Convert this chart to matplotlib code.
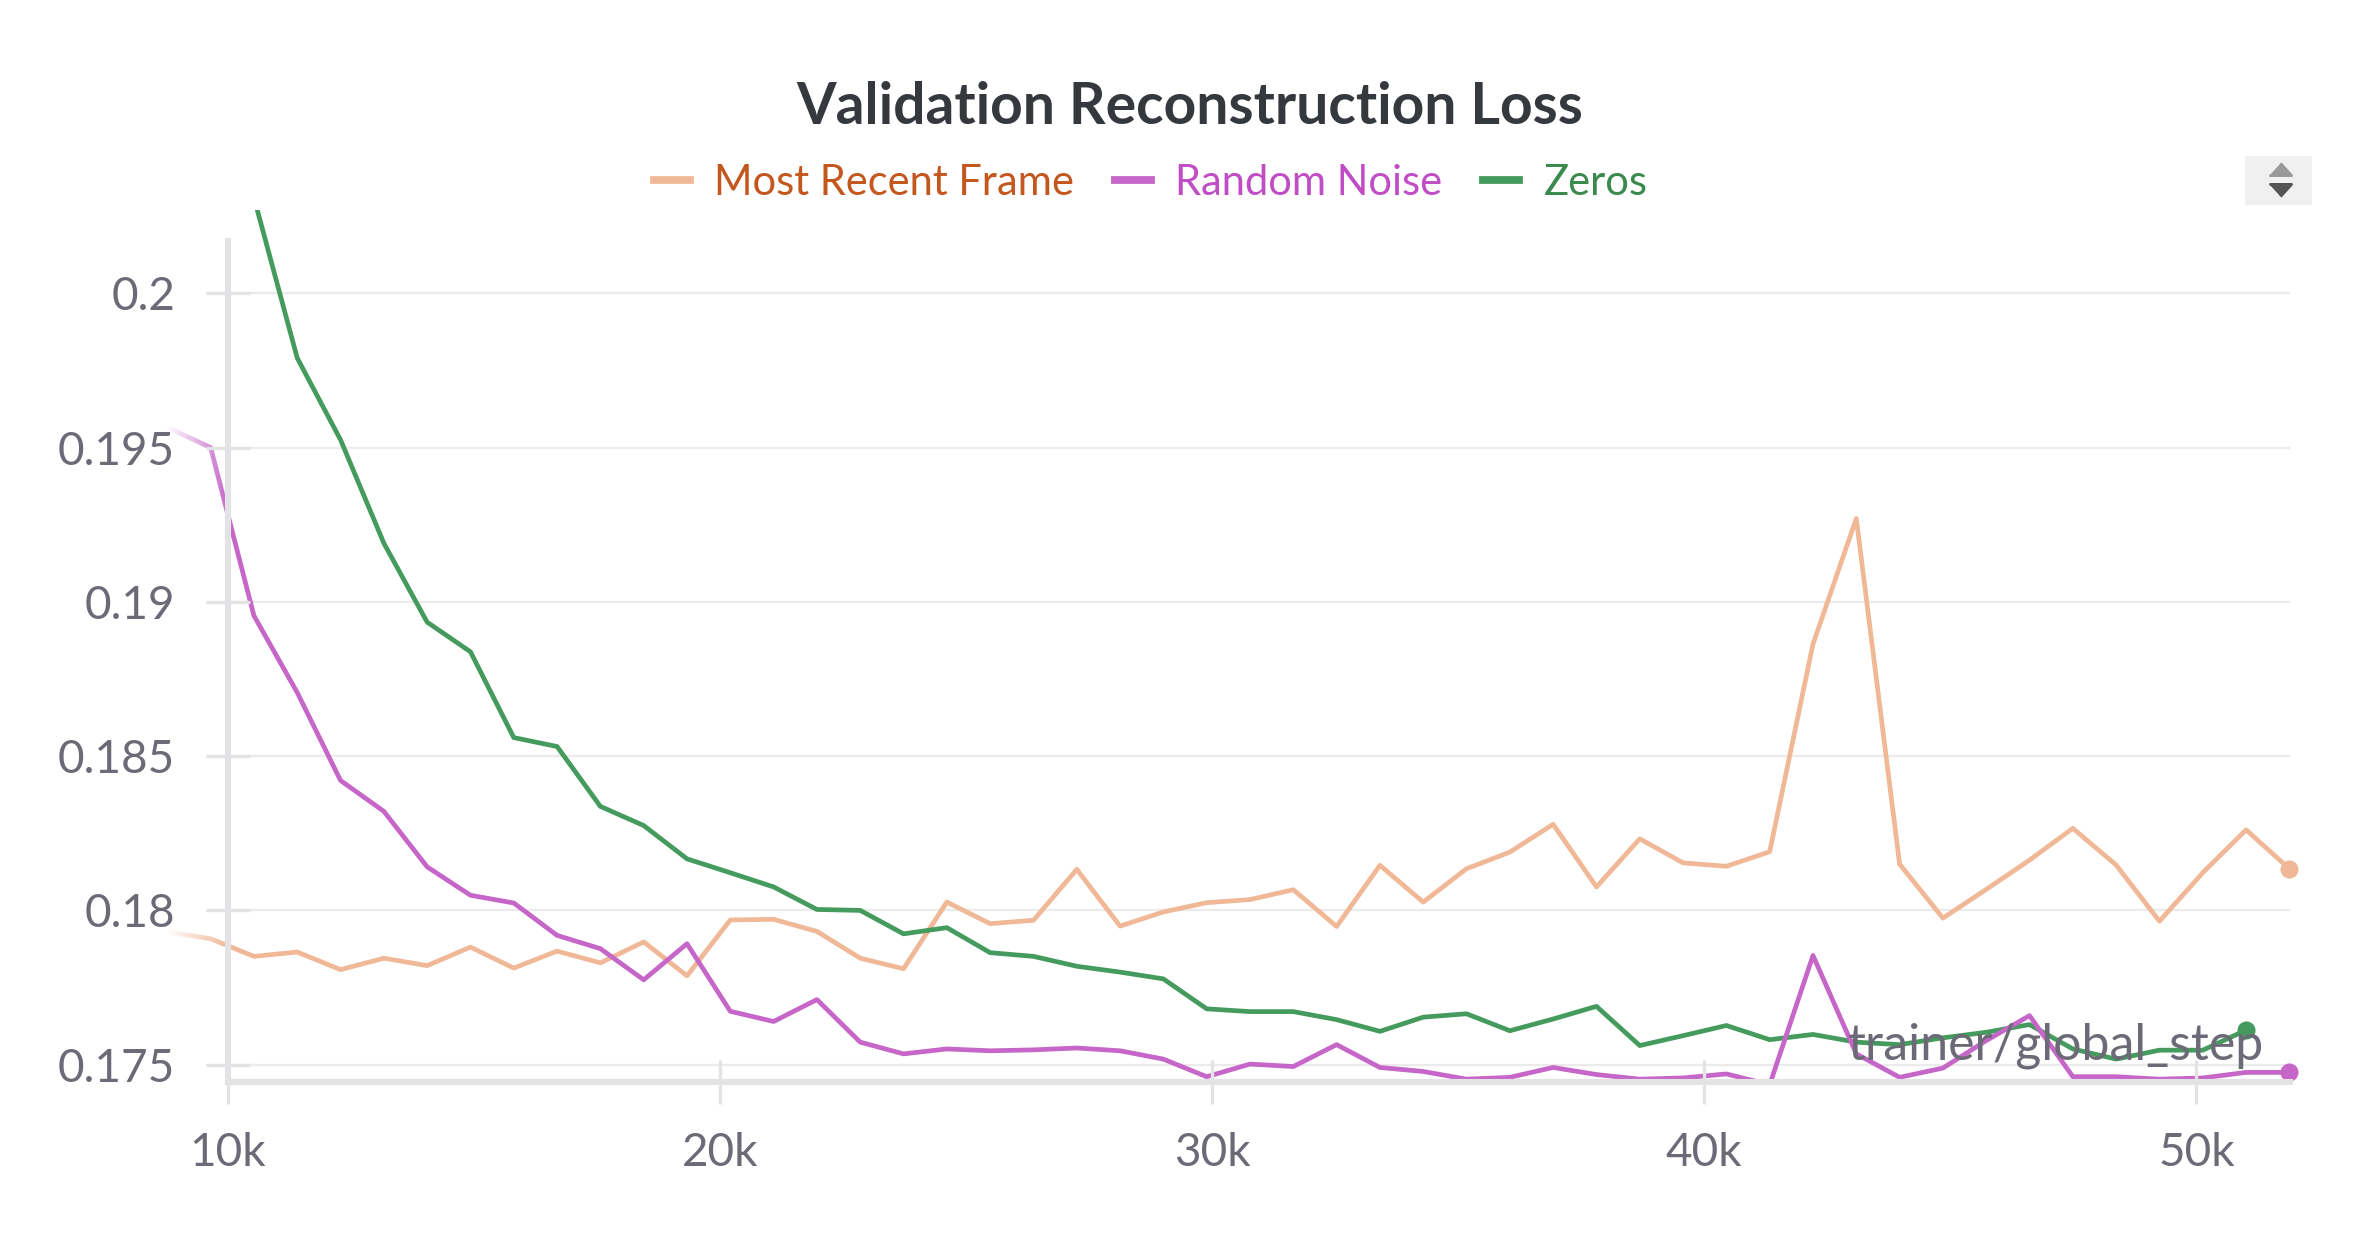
import numpy as np
import matplotlib
matplotlib.use('Agg')
import matplotlib.pyplot as plt
from matplotlib.ticker import FuncFormatter
from matplotlib.lines import Line2D
from matplotlib.patches import Rectangle

plt.rcParams['font.family'] = ['Lato', 'DejaVu Sans']

# trainer/global_step of each validation run
steps = [8770, 9650, 10530, 11410, 12290, 13170, 14050, 14930, 15810, 16690,
         17570, 18450, 19330, 20210, 21090, 21970, 22850, 23730, 24610, 25490,
         26370, 27250, 28130, 29010, 29890, 30770, 31650, 32530, 33410, 34290,
         35170, 36050, 36930, 37810, 38690, 39570, 40450, 41330, 42210, 43090,
         43970, 44850, 45730, 46610, 47490, 48370, 49250, 50130, 51010, 51890]

most_recent_frame = [0.17930, 0.17908, 0.17851, 0.17865, 0.17808, 0.17845, 0.17821, 0.17881, 0.17813, 0.17868,
                     0.17830, 0.17898, 0.17788, 0.17969, 0.17971, 0.17932, 0.17845, 0.17811, 0.18027, 0.17957,
                     0.17968, 0.18133, 0.17949, 0.17995, 0.18025, 0.18035, 0.18067, 0.17948, 0.18146, 0.18027,
                     0.18135, 0.18189, 0.18279, 0.18076, 0.18232, 0.18154, 0.18143, 0.18190, 0.18863, 0.19270,
                     0.18150, 0.17975, 0.18068, 0.18163, 0.18266, 0.18147, 0.17965, 0.18122, 0.18261, 0.18135]

random_noise = [0.19565, 0.19500, 0.18955, 0.18706, 0.18421, 0.18321, 0.18141, 0.18049, 0.18024, 0.17919,
                0.17876, 0.17775, 0.17892, 0.17673, 0.17640, 0.17711, 0.17573, 0.17535, 0.17551, 0.17545,
                0.17548, 0.17554, 0.17545, 0.17518, 0.17461, 0.17502, 0.17494, 0.17565, 0.17491, 0.17478,
                0.17453, 0.17459, 0.17491, 0.17468, 0.17453, 0.17457, 0.17470, 0.17435, 0.17854, 0.17535,
                0.17459, 0.17489, 0.17578, 0.17659, 0.17461, 0.17461, 0.17453, 0.17457, 0.17475, 0.17475]

zeros = [0.21200, 0.20750, 0.20310, 0.19790, 0.19525, 0.19190, 0.18934, 0.18838, 0.18560, 0.18531,
         0.18337, 0.18275, 0.18167, 0.18122, 0.18076, 0.18003, 0.18000, 0.17924, 0.17944, 0.17863,
         0.17851, 0.17819, 0.17800, 0.17778, 0.17681, 0.17672, 0.17672, 0.17646, 0.17608, 0.17654,
         0.17665, 0.17610, 0.17648, 0.17689, 0.17562, 0.17594, 0.17627, 0.17581, 0.17598, 0.17573,
         0.17565, 0.17587, 0.17605, 0.17630, 0.17551, 0.17518, 0.17547, 0.17547, 0.17612]

series_names = ['Most Recent Frame', 'Random Noise', 'Zeros']
line_colors = ['#f0b896', '#c566c8', '#449b5d']
text_colors = ['#c4571d', '#c04dc6', '#3a8a4e']
y_ticks = [0.175, 0.18, 0.185, 0.19, 0.195, 0.2]
x_ticks = [10000, 20000, 30000, 40000, 50000]

xlim = (8760, 51900)
ylim = (0.17445, 0.2027)
axis_start = 10000
axis_col = '#e3e3e6'
label_col = '#6b6a76'

fig = plt.figure(figsize=(11.85, 6.225), dpi=200)
ax = fig.add_axes([0.07039, 0.1312, 0.8958, 0.7002])

series = [most_recent_frame, zeros, random_noise]
cols = [line_colors[0], line_colors[2], line_colors[1]]
for vals, c in zip(series, cols):
    xs = steps[:len(vals)]
    ax.plot(xs, vals, color=c, lw=1.7, zorder=2)
    ax.plot(xs[-1], vals[-1], 'o', ms=5.5, color=c, zorder=2.1, clip_on=False)

# fade out the part left of the axis line
grad = np.ones((2, 256, 4))
grad[..., 3] = np.linspace(1, 0, 256)
ax.imshow(grad, extent=(xlim[0], axis_start, ylim[0], ylim[1]), aspect='auto',
          interpolation='bilinear', zorder=2.2)

ax.set_xlim(*xlim)
ax.set_ylim(*ylim)

frac = (axis_start - xlim[0]) / (xlim[1] - xlim[0])
for y in y_ticks:
    ax.axhline(y, xmin=frac, xmax=1, color='#ebebeb', lw=0.8, zorder=1)

for s in ['top', 'right']:
    ax.spines[s].set_visible(False)
ax.spines['left'].set_position(('data', axis_start))
ax.spines['left'].set_bounds(ylim[0], 0.2017)
ax.spines['bottom'].set_bounds(axis_start, xlim[1])
for s in ['left', 'bottom']:
    ax.spines[s].set_color(axis_col)
    ax.spines[s].set_linewidth(2.2)

ax.set_xticks(x_ticks)
ax.set_yticks(y_ticks)
ax.xaxis.set_major_formatter(FuncFormatter(lambda v, p: '%dk' % round(v / 1000)))
ax.yaxis.set_major_formatter(FuncFormatter(lambda v, p: '%g' % round(v, 3)))
ax.tick_params(axis='both', direction='inout', length=16, width=1.2, color=axis_col,
               labelcolor=label_col, labelsize=16.5)
ax.tick_params(axis='y', pad=11)
ax.tick_params(axis='x', pad=10)
ax.set_axisbelow(False)
ax.patch.set_alpha(0)

fig.text(0.502, 0.9004, 'Validation Reconstruction Loss', ha='center', va='baseline',
         fontsize=20.5, fontweight='bold', color='#35383d')

handles = [Line2D([], [], color=c, lw=2.8) for c in line_colors]
leg = fig.legend(handles, series_names, loc='center', bbox_to_anchor=(0.4855, 0.853), ncol=3,
                 frameon=False, fontsize=15, handlelength=0.87, handletextpad=0.58,
                 columnspacing=0.98, borderpad=0, borderaxespad=0)
for t, c in zip(leg.get_texts(), text_colors):
    t.set_color(c)

fig.text(0.9555, 0.1486, 'trainer/global_step', ha='right', va='baseline',
         fontsize=18, color=label_col)

# little sort icon in the top right corner
fig.patches.append(Rectangle((0.9477, 0.8369), 0.027, 0.037, transform=fig.transFigure,
                             color='#f0f0f0', zorder=0))
up = [(-1, -0.55), (1, -0.55), (0, 0.55)]
down = [(-1, 0.55), (1, 0.55), (0, -0.55)]
fig.add_artist(Line2D([0.962], [0.8643], marker=up, ms=8, color='#9a9a9a', ls='none',
                      transform=fig.transFigure))
fig.add_artist(Line2D([0.962], [0.8474], marker=down, ms=8, color='#555555', ls='none',
                      transform=fig.transFigure))

fig.savefig('out.png', dpi=200)
